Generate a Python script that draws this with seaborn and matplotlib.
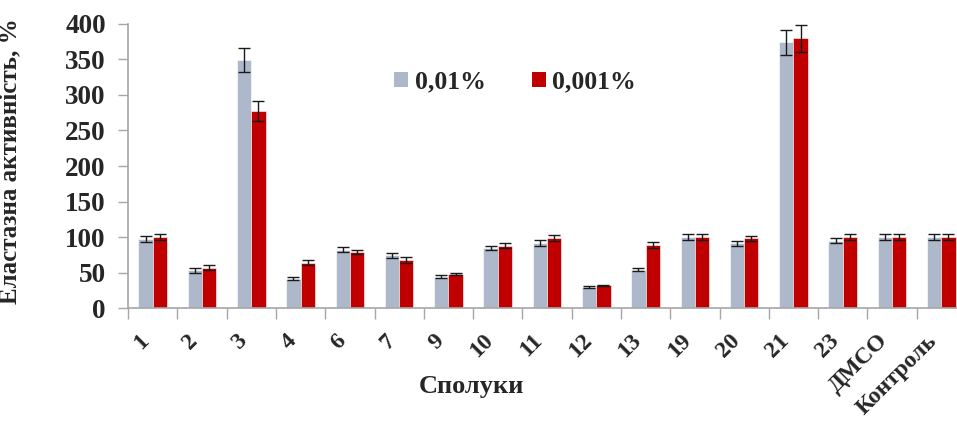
import numpy as np
import pandas as pd
import matplotlib
matplotlib.use("Agg")
import matplotlib.pyplot as plt
import seaborn as sns
from matplotlib.ticker import MultipleLocator, FixedLocator

# Compounds tested and elastase activity (% of control) at two concentrations
compounds = ["1", "2", "3", "4", "6", "7", "9", "10", "11", "12", "13",
             "19", "20", "21", "23", "ДМСО", "Контроль"]
conc_labels = ["0,01%", "0,001%"]
act_001 = [97, 53, 349, 41, 82, 74, 44, 85, 92, 29.5, 54,
           100, 91, 374, 95, 100, 100]
err_001 = [4, 3, 17, 2, 3.5, 3, 2, 3, 4, 1.5, 2,
           4, 4, 18, 4, 4, 4]
act_0001 = [100, 57, 277.5, 64, 79, 67.5, 48, 88, 99, 32, 89,
            100, 98, 380, 100, 100, 100]
err_0001 = [4, 3, 14, 3, 3, 4, 2, 3.5, 4, 1, 4,
            4, 4, 19, 4, 4, 4]

colors = ["#ADB9CA", "#C00000"]

df = pd.DataFrame({
    "compound": compounds * 2,
    "conc": [conc_labels[0]] * len(compounds) + [conc_labels[1]] * len(compounds),
    "value": act_001 + act_0001,
})

sns.set_theme(style="white")
plt.rcParams["font.family"] = ["Liberation Serif", "DejaVu Serif"]
plt.rcParams["font.weight"] = "bold"

fig = plt.figure(figsize=(9.57, 4.21), dpi=100)
ax = fig.add_axes([0.1338, 0.2684, 0.8756, 0.6746])

sns.barplot(data=df, x="compound", y="value", hue="conc",
            order=compounds, hue_order=conc_labels,
            palette=colors, saturation=1, width=0.58, gap=0, errorbar=None,
            edgecolor="white", linewidth=0.4, ax=ax)

# error bars on top of each bar, positioned from the bar containers
for cont, vals, errs in zip(ax.containers, [act_001, act_0001], [err_001, err_0001]):
    xs = [p.get_x() + p.get_width() / 2 for p in cont.patches]
    ax.errorbar(xs, vals, yerr=errs, fmt="none", ecolor="#1a1a1a",
                elinewidth=1.0, capsize=4.5, capthick=1.0, zorder=5)

ax.set_xlim(-0.5, len(compounds) - 0.5)
ax.set_ylim(0, 400)
ax.yaxis.set_major_locator(MultipleLocator(50))

for side in ["top", "right"]:
    ax.spines[side].set_visible(False)
for side in ["left", "bottom"]:
    ax.spines[side].set_color("#A6A6A6")
    ax.spines[side].set_linewidth(1.2)

# category separators as minor ticks on the x axis
ax.xaxis.set_minor_locator(FixedLocator(np.arange(-0.5, len(compounds), 1.0)))
ax.tick_params(axis="x", which="minor", length=8, width=1, color="#A6A6A6",
               direction="out", bottom=True)
ax.tick_params(axis="x", which="major", length=0, pad=16)
ax.tick_params(axis="y", which="major", length=7, width=1, color="#A6A6A6",
               direction="out", left=True, pad=9, labelsize=19.5)

ax.set_xticks(range(len(compounds)))
ax.set_xticklabels(compounds, rotation=45, ha="right", va="top",
                   fontsize=17, fontweight="bold")
for lab in ax.get_yticklabels():
    lab.set_fontweight("bold")

ax.set_xlabel("")
ax.set_ylabel("Еластазна активність, %", fontsize=18, fontweight="bold")
ax.yaxis.set_label_coords(-0.127, 0.518)

fig.text(471 / 957, 1 - 387 / 421, "Сполуки", ha="center", va="center",
         fontsize=19, fontweight="bold")

leg = ax.legend(loc="center", bbox_to_anchor=(515 / 957, 1 - 82 / 421),
                bbox_transform=fig.transFigure, ncol=2, frameon=False,
                handlelength=0.55, handleheight=0.55, handletextpad=0.25,
                columnspacing=1.8, prop={"size": 18.5, "weight": "bold"})
for h in leg.legend_handles:
    h.set_edgecolor("none")

fig.savefig("out.png", dpi=100)
